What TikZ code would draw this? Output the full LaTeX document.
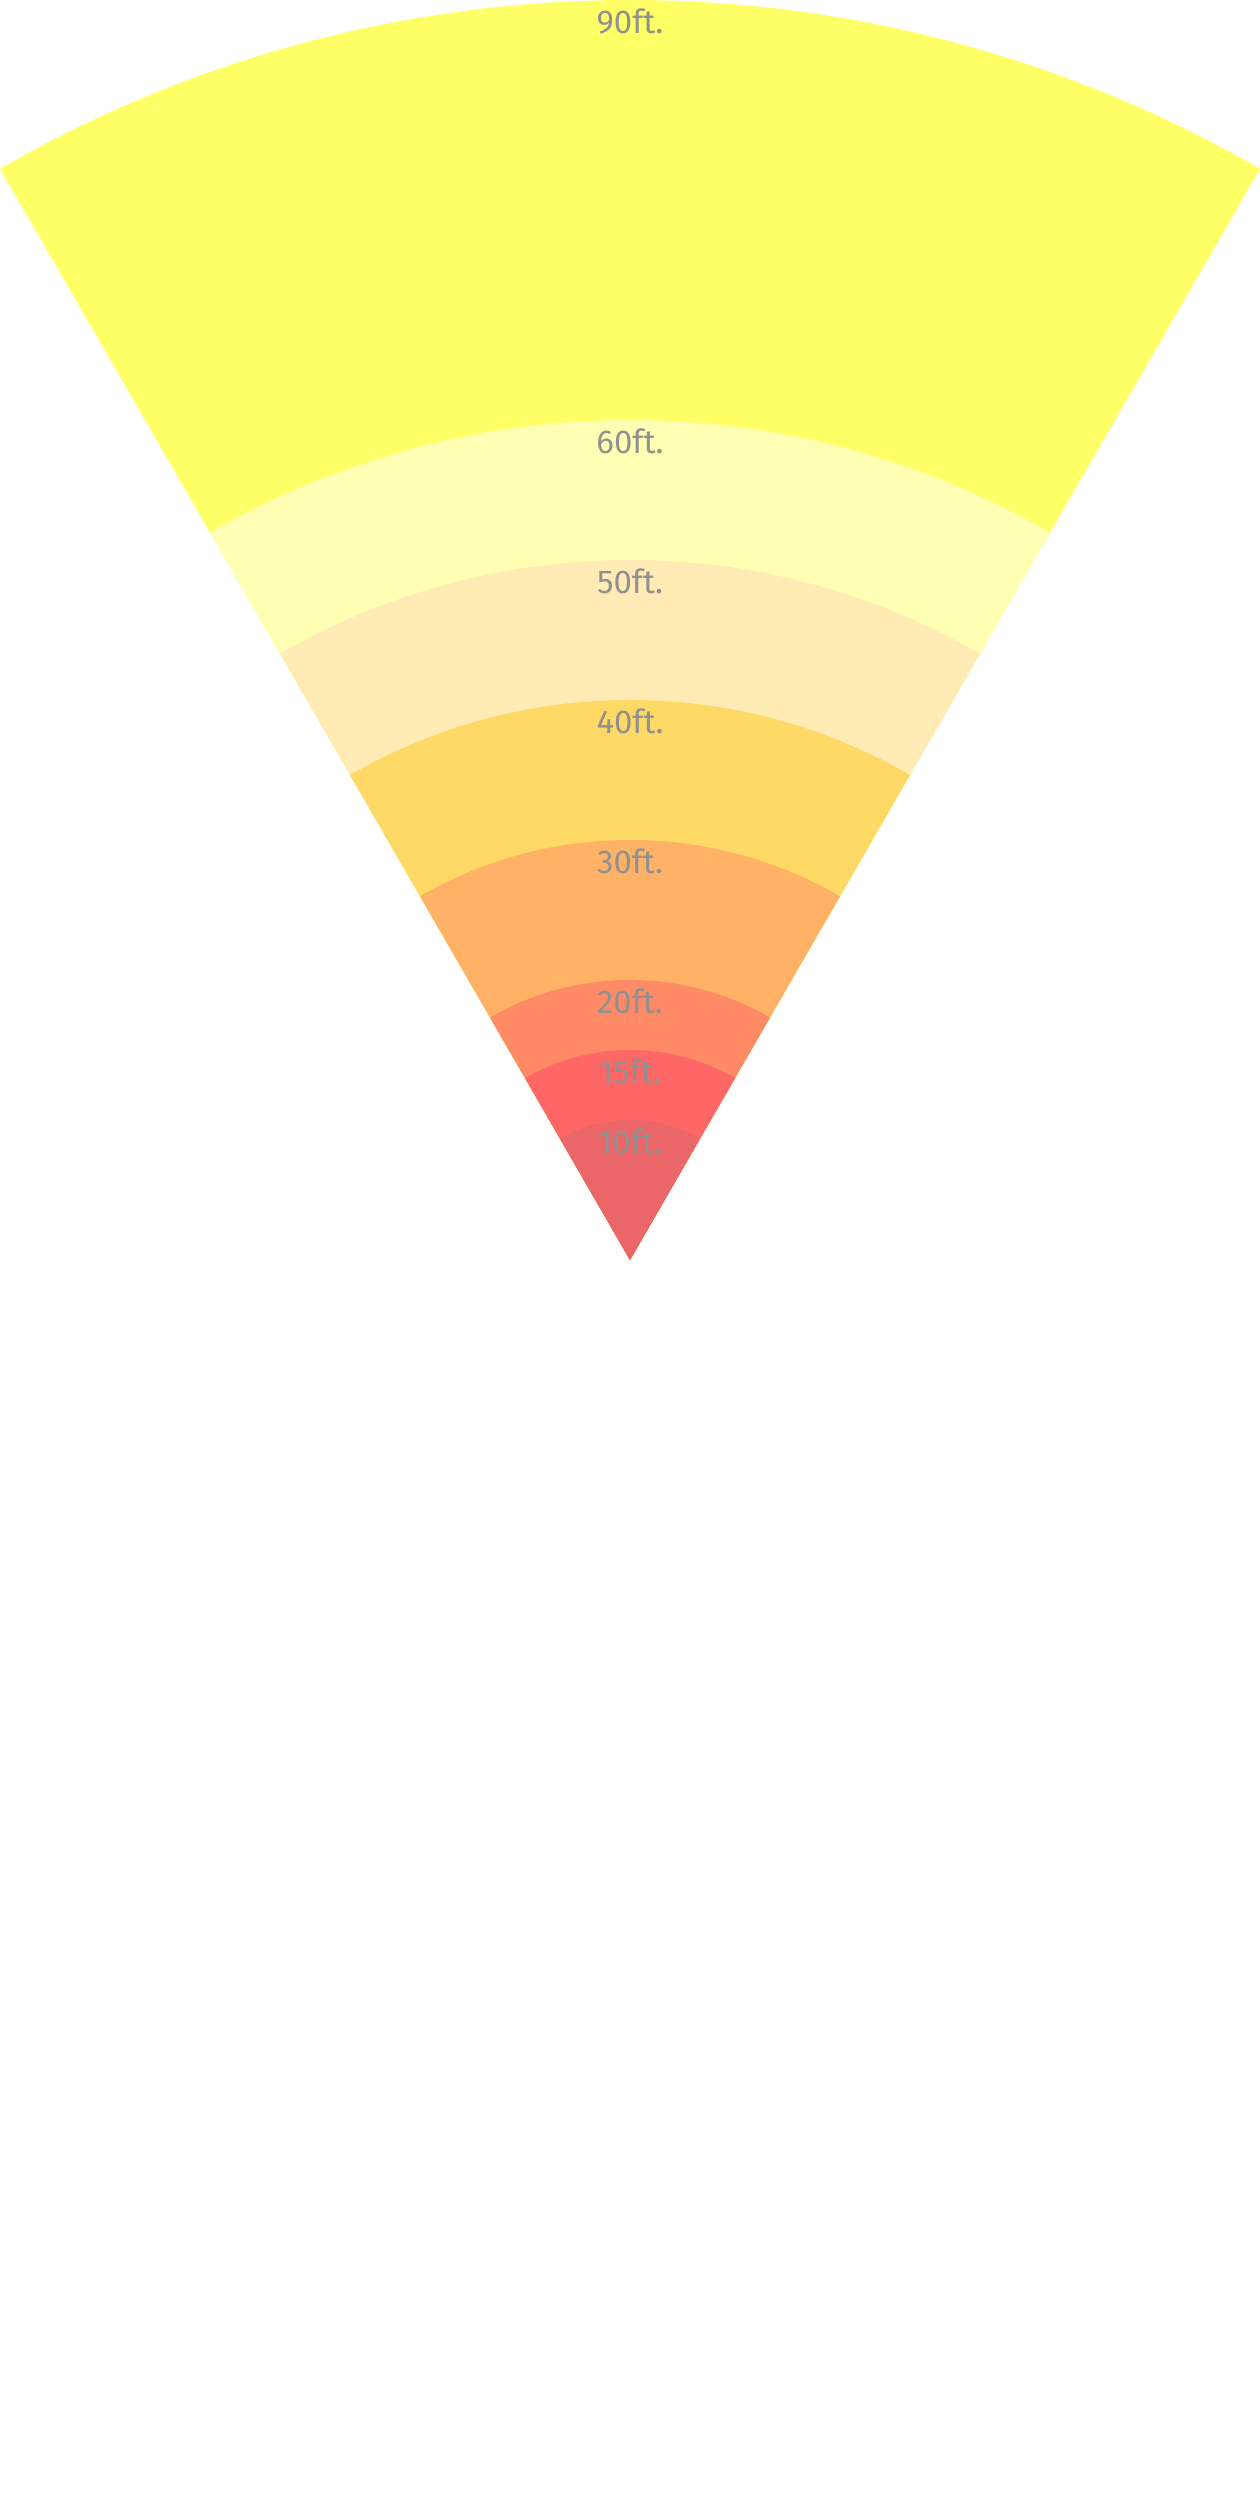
\documentclass[tikz,border=0pt]{standalone}
\usepackage{fontspec}
\setmainfont{Fira Sans}
\usetikzlibrary{calc}
\definecolor{c90}{RGB}{255,255,102}
\definecolor{c60}{RGB}{255,255,179}
\definecolor{c50}{RGB}{255,235,179}
\definecolor{c40}{RGB}{255,217,102}
\definecolor{c30}{RGB}{255,177,102}
\definecolor{c20}{RGB}{255,138,102}
\definecolor{c15}{RGB}{255,102,102}
\definecolor{c10}{RGB}{234,102,104}
\definecolor{lbl}{RGB}{145,145,145}
\tikzset{
  band/.style={fill=#1, draw=none},
  rangelabel/.style={anchor=north, inner sep=0pt, yshift=-9pt, text=lbl,
    font=\fontsize{33}{38}\selectfont}
}
\begin{document}
\begin{tikzpicture}[x=1pt,y=1pt]
\useasboundingbox (0,0) rectangle (1260,2520);
\fill[white] (0,0) rectangle (1260,2520);
\coordinate (apex) at (630,1260);
\foreach \ft/\col in {90/c90,60/c60,50/c50,40/c40,30/c30,20/c20,15/c15,10/c10}{
  \pgfmathsetmacro{\r}{14*\ft}
  \fill[band=\col] (apex) -- ++(60:\r) arc[start angle=60, end angle=120, radius=\r] -- cycle;
}
\foreach \ft in {90,60,50,40,30,20,15,10}{
  \pgfmathsetmacro{\r}{14*\ft}
  \node[rangelabel] (l\ft) at ($(apex)+(0,\r)$) {\ft ft.};
}
\end{tikzpicture}
\end{document}
